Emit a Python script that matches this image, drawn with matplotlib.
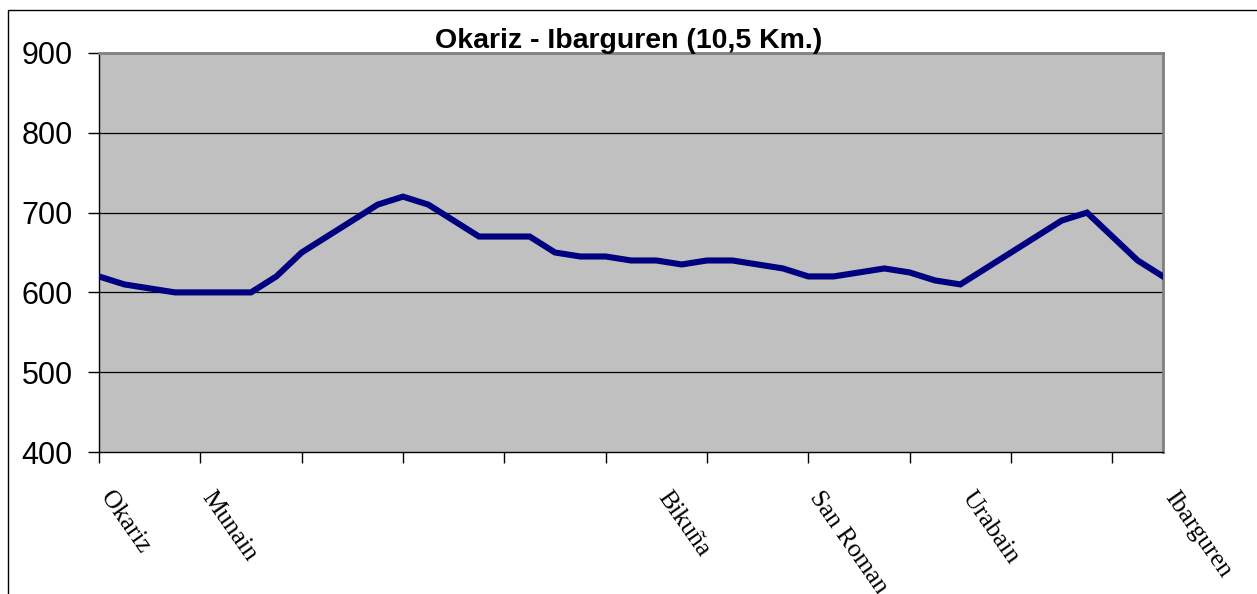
import matplotlib
matplotlib.use("Agg")
import matplotlib.pyplot as plt
import matplotlib.transforms as mtransforms
from matplotlib.patches import Rectangle

# altitude profile, one point per step along the route
altitudes = [620, 610, 605, 600, 600, 600, 600, 620, 650, 670, 690, 710, 720, 710,
             690, 670, 670, 670, 650, 645, 645, 640, 640, 635, 640, 640, 635, 630,
             620, 620, 625, 630, 625, 615, 610, 630, 650, 670, 690, 700, 670, 640, 620]
place_idx = [0, 4, 22, 28, 34, 42]
place_names = ["Okariz", "Munain", "Bikuña", "San Roman", "Urabain", "Ibarguren"]
title = "Okariz - Ibarguren (10,5 Km.)"

W, H = 1257, 594
fig = plt.figure(figsize=(W / 100, H / 100), dpi=100)
ax = fig.add_axes([99 / W, 1 - 452 / H, (1163 - 99) / W, (452 - 53) / H])

x = list(range(len(altitudes)))
ax.set_facecolor("#C0C0C0")
ax.plot(x, altitudes, color="#000080", lw=4.4, solid_joinstyle="miter", zorder=3)

ax.set_xlim(0, len(altitudes) - 1)
ax.set_ylim(400, 900)
ax.set_yticks(range(400, 901, 100))
for v in range(500, 900, 100):
    ax.axhline(v, color="black", lw=0.9, zorder=1)

ax.tick_params(axis="y", length=8, width=1, pad=11, labelsize=22)
for lab in ax.get_yticklabels():
    lab.set_family(["Liberation Sans", "DejaVu Sans"])

# tick marks every 4 points, labels only at named places
ax.set_xticks(range(0, len(altitudes) - 1, 4))
ax.set_xticklabels([])
ax.tick_params(axis="x", length=8, width=1)
trans = mtransforms.offset_copy(ax.get_xaxis_transform(), fig=fig, x=-3, y=-35, units="dots")
for i, name in zip(place_idx, place_names):
    ax.text(i, 0, name, transform=trans, rotation=-55, ha="left", va="top",
            fontsize=18.5, family=["Liberation Serif", "DejaVu Serif"], clip_on=False)

for s in ["left", "bottom"]:
    ax.spines[s].set_color("black")
    ax.spines[s].set_linewidth(1)
for s in ["top", "right"]:
    ax.spines[s].set_color("#808080")
    ax.spines[s].set_linewidth(2)

fig.text(0.5, 1 - 41 / H, title, ha="center", va="center", fontsize=20.5,
         fontweight="bold", family=["Liberation Sans", "DejaVu Sans"])

fig.patches.append(Rectangle((8 / W, -0.1), 1.2, 1.1 - 10 / H, transform=fig.transFigure,
                             fill=False, edgecolor="black", lw=1))

fig.savefig("out.png", dpi=100)
